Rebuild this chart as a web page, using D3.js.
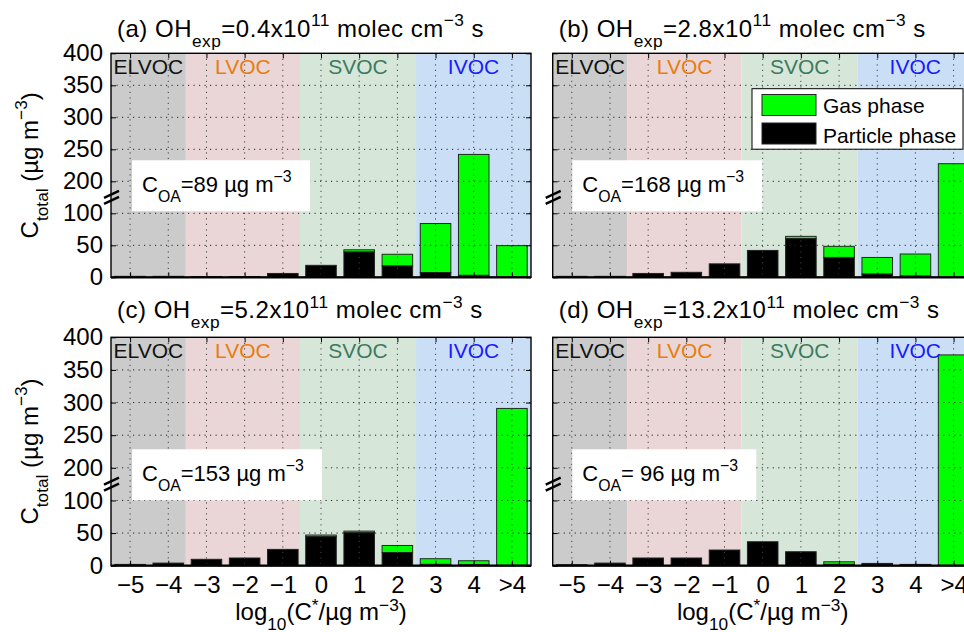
<!DOCTYPE html>
<html>
<head>
<meta charset="utf-8">
<script src="https://cdn.jsdelivr.net/npm/d3@7"></script>
<style>
  html, body { margin: 0; padding: 0; background: #fff; }
  svg { display: block; font-family: "Liberation Sans", Arial, Helvetica, sans-serif; }
</style>
</head>
<body>
<svg id="chart" width="964" height="632"></svg>
<script>
// ---------------- DATA ----------------
const categories = ["\u22125", "\u22124", "\u22123", "\u22122", "\u22121", "0", "1", "2", "3", "4", ">4"];
const yTickValues = [0, 50, 100, 200, 250, 300, 350, 400];

const panelLetters = ["a", "b", "c", "d"];
const ohExposure = ["0.4", "2.8", "5.2", "13.2"];
const coaValues = ["89", "168", "153", " 96"];

// total (gas + particle) and particle-phase concentrations, µg m-3
const totalA    = [1.5, 1.5, 1.2, 1.2, 6, 18.7, 43, 36, 84, 242, 49.5];
const particleA = [1.5, 1.5, 1.2, 1.2, 6, 18.7, 39.5, 17.7, 7.3, 3, 0.5];
const totalB    = [1.5, 1.5, 6, 7.8, 21, 42, 64, 48.4, 31, 36.4, 227.5];
const particleB = [1.5, 1.5, 6, 7.8, 21, 42, 60.3, 31, 5, 2, 0.5];
const totalC    = [2, 4, 9.8, 11.8, 25, 47, 53, 31, 10.7, 7.6, 291];
const particleC = [2, 4, 9.8, 11.8, 25, 44.4, 50.5, 20, 2, 1.5, 0.5];
const totalD    = [1.5, 4, 11.8, 11.8, 24, 36.7, 21.4, 6, 3.5, 2, 373];
const particleD = [1.5, 4, 11.8, 11.8, 24, 36.7, 21.4, 2, 2.5, 1.5, 0.5];

const totals = [totalA, totalB, totalC, totalD];
const particles = [particleA, particleB, particleC, particleD];

// volatility classes: edges in bin-index units
const regionNames = ["ELVOC", "LVOC", "SVOC", "IVOC"];
const regionEdges = [-0.5, 1.46, 4.45, 7.49, 10.5];
const regionFill = ["#cbcbcb", "#ead6d6", "#d6e7da", "#cadff5"];
const regionText = ["#111111", "#e67e0f", "#3f7a5e", "#1a1aff"];

const legendLabels = ["Gas phase", "Particle phase"];
const gasColor = "#00ff00", partColor = "#000000";

// ---------------- LAYOUT ----------------
const panels = [
  { left: 111,   top: 53.3,  w: 420, h: 224,   titleY: 36.7 },
  { left: 552.7, top: 53.3,  w: 420, h: 224,   titleY: 36.7 },
  { left: 111,   top: 337.3, w: 420, h: 228.4, titleY: 318.3 },
  { left: 552.7, top: 337.3, w: 420, h: 228.4, titleY: 318.3 }
];

const svg = d3.select("#chart");
const FS = 24;     // axes / title font
const FSBOX = 22;  // annotation box

function rich(sel, parts, fs, supRaise) {
  const up = supRaise === undefined ? 0.45 : supRaise;
  let shift = 0;
  parts.forEach(p => {
    const ts = sel.append("tspan").text(p.t);
    let target = 0, size = fs;
    if (p.s === "sub") { target = fs * 0.42; size = fs * 0.72; }
    if (p.s === "sup") { target = -fs * up; size = fs * 0.72; }
    ts.attr("dy", target - shift).attr("font-size", size);
    shift = target;
  });
}

panels.forEach((P, k) => {
  const g = svg.append("g");
  const x = d3.scaleLinear().domain([-0.5, 10.5]).range([P.left, P.left + P.w]);
  const bottom = P.top + P.h, step = P.h / 7;
  // broken axis: 0-100 linear, 100-200 compressed, 200-400 linear
  const y = d3.scaleLinear().domain([0, 100, 200, 400])
    .range([bottom, bottom - 2 * step, bottom - 3 * step, P.top]);
  const bw = (x(1) - x(0)) * 0.8;

  const clipId = "clip" + k;
  g.append("clipPath").attr("id", clipId).append("rect")
    .attr("x", P.left).attr("y", P.top).attr("width", P.w).attr("height", P.h);
  const inner = g.append("g").attr("clip-path", `url(#${clipId})`);

  // background regions
  inner.selectAll("rect.reg").data(regionNames).join("rect")
    .attr("x", (d, i) => x(regionEdges[i]))
    .attr("width", (d, i) => x(regionEdges[i + 1]) - x(regionEdges[i]))
    .attr("y", P.top).attr("height", P.h)
    .attr("fill", (d, i) => regionFill[i]);

  // bars
  const idx = d3.range(categories.length);
  inner.selectAll("rect.gas").data(idx).join("rect")
    .attr("x", i => x(i) - bw / 2).attr("width", bw)
    .attr("y", i => y(totals[k][i]))
    .attr("height", i => y(particles[k][i]) - y(totals[k][i]))
    .attr("fill", gasColor).attr("stroke", "#1e2a1e").attr("stroke-width", 1);
  inner.selectAll("rect.part").data(idx).join("rect")
    .attr("x", i => x(i) - bw / 2).attr("width", bw)
    .attr("y", i => y(particles[k][i]))
    .attr("height", i => bottom - y(particles[k][i]))
    .attr("fill", partColor).attr("stroke", "#222").attr("stroke-width", 1);

  // grid (on top)
  inner.selectAll("line.vg").data(idx).join("line")
    .attr("x1", i => x(i)).attr("x2", i => x(i))
    .attr("y1", P.top).attr("y2", bottom)
    .attr("stroke", "#444").attr("stroke-width", 1).attr("stroke-dasharray", "1.2,4.3");
  inner.selectAll("line.hg").data(yTickValues.slice(1, -1)).join("line")
    .attr("x1", P.left).attr("x2", P.left + P.w)
    .attr("y1", d => y(d)).attr("y2", d => y(d))
    .attr("stroke", "#222").attr("stroke-width", 1).attr("stroke-dasharray", "1.2,4.3");

  // region labels
  inner.selectAll("text.reg").data(regionNames).join("text")
    .attr("x", (d, i) => (x(regionEdges[i]) + x(regionEdges[i + 1])) / 2)
    .attr("y", P.top + 21)
    .attr("text-anchor", "middle").attr("font-size", 21)
    .attr("fill", (d, i) => regionText[i]).text(d => d);

  // axes
  const left = g.append("g").attr("transform", `translate(${P.left},0)`)
    .call(d3.axisLeft(y).tickValues(yTickValues).tickSize(-5).tickSizeOuter(0).tickPadding(8).tickFormat(d3.format("d")));
  left.selectAll("text").attr("font-size", FS).attr("fill", "#000").attr("font-family", null);
  left.select(".domain").remove();
  if (k % 2 === 1) left.selectAll("text").remove();

  const right = g.append("g").attr("transform", `translate(${P.left + P.w},0)`)
    .call(d3.axisRight(y).tickValues(yTickValues).tickSize(-5).tickSizeOuter(0).tickFormat(""));
  right.select(".domain").remove();

  const bot = g.append("g").attr("transform", `translate(0,${bottom})`)
    .call(d3.axisBottom(x).tickValues(idx).tickSize(-5).tickSizeOuter(0).tickPadding(10)
      .tickFormat(i => categories[i]));
  bot.selectAll("text").attr("font-size", FS).attr("fill", "#000").attr("font-family", null);
  bot.select(".domain").remove();
  if (k < 2) bot.selectAll("text").remove();

  const topAx = g.append("g").attr("transform", `translate(0,${P.top})`)
    .call(d3.axisTop(x).tickValues(idx).tickSize(-5).tickSizeOuter(0).tickFormat(""));
  topAx.select(".domain").remove();
  g.selectAll(".tick line").attr("stroke", "#000");

  g.append("rect").attr("x", P.left).attr("y", P.top).attr("width", P.w).attr("height", P.h)
    .attr("fill", "none").attr("stroke", "#000").attr("stroke-width", 1.4);
  g.append("line").attr("x1", P.left).attr("x2", P.left + P.w).attr("y1", bottom).attr("y2", bottom)
    .attr("stroke", "#000").attr("stroke-width", 2.2);

  // axis break marks
  const yc = (y(100) + y(200)) / 2;
  [-3, 3].forEach(o => {
    g.append("line")
      .attr("x1", P.left - 7).attr("y1", yc + o + 3.5)
      .attr("x2", P.left + 8).attr("y2", yc + o - 3.5)
      .attr("stroke", "#000").attr("stroke-width", 2.4);
  });

  // C_OA text box
  const bx = P.left + (k % 2 === 0 ? 21 : 19.6);
  const bwid = [178, 190, 190, 184][k];
  const by = P.top + (k < 2 ? 107 : 112);
  g.append("rect").attr("x", bx).attr("y", by).attr("width", bwid).attr("height", 51).attr("fill", "#fff");
  const ct = g.append("text").attr("x", bx + 10).attr("y", by + 32).attr("font-size", FSBOX).attr("fill", "#000");
  rich(ct, [{ t: "C" }, { t: "OA", s: "sub" }, { t: "=" + coaValues[k] + " \u00b5g m" }, { t: "\u22123", s: "sup" }], FSBOX);

  // title
  const tt = svg.append("text").attr("x", P.left + 6).attr("y", P.titleY).attr("font-size", FS)
    .attr("letter-spacing", 0.5).attr("fill", "#000");
  rich(tt, [{ t: "(" + panelLetters[k] + ") OH" }, { t: "exp", s: "sub" }, { t: "=" + ohExposure[k] + "x10" },
            { t: "11", s: "sup" }, { t: " molec cm" }, { t: "\u22123", s: "sup" }, { t: " s" }], FS);

  // y label
  if (k % 2 === 0) {
    const yl = svg.append("text")
      .attr("transform", `translate(38,${P.top + P.h / 2}) rotate(-90)`)
      .attr("text-anchor", "middle").attr("font-size", FS).attr("fill", "#000");
    rich(yl, [{ t: "C" }, { t: "total", s: "sub" }, { t: " (\u00b5g m" }, { t: "\u22123", s: "sup" }, { t: ")" }], FS);
  }
  // x label
  if (k >= 2) {
    const xl = svg.append("text")
      .attr("x", P.left + P.w / 2).attr("y", 620)
      .attr("text-anchor", "middle").attr("font-size", FS).attr("fill", "#000");
    rich(xl, [{ t: "log" }, { t: "10", s: "sub" }, { t: "(C" }, { t: "*", s: "sup" }, { t: "/\u00b5g m" }, { t: "\u22123", s: "sup" }, { t: ")" }], FS, 0.36);
  }

  // legend (panel b)
  if (k === 1) {
    const lg = svg.append("g");
    lg.append("rect").attr("x", 752).attr("y", 88.7).attr("width", 211).attr("height", 60.5)
      .attr("fill", "#fff").attr("stroke", "#000").attr("stroke-width", 1);
    [gasColor, partColor].forEach((c, i) => {
      lg.append("rect").attr("x", 762).attr("y", 94.5 + i * 28.5).attr("width", 54).attr("height", 21)
        .attr("fill", c).attr("stroke", "#222").attr("stroke-width", 1);
      lg.append("text").attr("x", 823).attr("y", 113.3 + i * 29.2).attr("font-size", 21)
        .attr("fill", "#000").text(legendLabels[i]);
    });
  }
});
</script>
</body>
</html>
